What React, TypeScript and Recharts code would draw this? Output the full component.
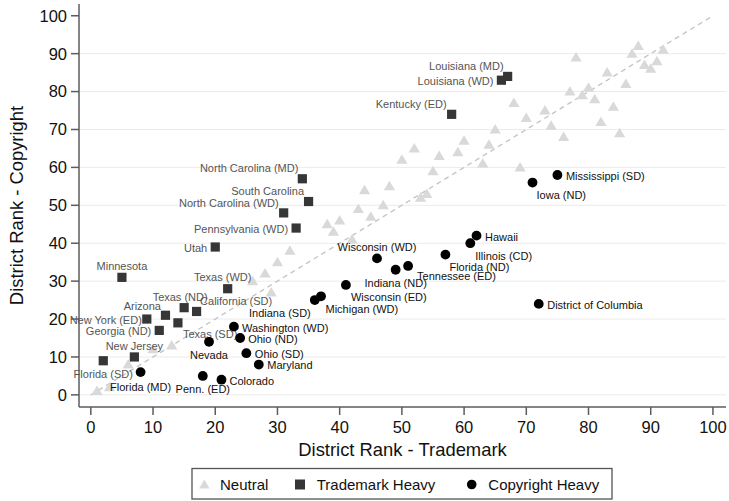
import React from 'react';
import { ScatterChart, Scatter, XAxis, YAxis, ReferenceLine, CartesianGrid } from 'recharts';

const FONT = '"Liberation Sans", Arial, Helvetica, sans-serif';

// ---- data (district ranks) ----
const neutralTrademark = [1, 3, 6, 10, 13, 26, 28, 29, 30, 32, 38, 39, 40, 42, 43, 44, 45, 47, 48, 50, 52, 53, 54, 55, 56, 59, 60, 63, 64, 65, 68, 69, 70, 73, 74, 76, 77, 78, 79, 80, 81, 82, 83, 84, 85, 86, 87, 88, 89, 90, 91, 92];
const neutralCopyright = [1, 2, 8, 12, 13, 30, 32, 27, 35, 38, 45, 43, 46, 41, 49, 54, 47, 50, 55, 62, 65, 52, 53, 59, 63, 64, 67, 61, 66, 70, 77, 60, 73, 75, 71, 68, 80, 89, 79, 81, 78, 72, 85, 76, 69, 82, 90, 92, 87, 86, 88, 91];

const tmHeavyNames = ['Florida (SD)', 'Minnesota', 'New Jersey', 'New York (ED)', 'Georgia (ND)', 'Arizona', 'Texas (SD)', 'Texas (ND)', 'California (SD)', 'Utah', 'Texas (WD)', 'North Carolina (WD)', 'Pennsylvania (WD)', 'North Carolina (MD)', 'South Carolina', 'Kentucky (ED)', 'Louisiana (WD)', 'Louisiana (MD)'];
const tmHeavyTrademark = [2, 5, 7, 9, 11, 12, 14, 15, 17, 20, 22, 31, 33, 34, 35, 58, 66, 67];
const tmHeavyCopyright = [9, 31, 10, 20, 17, 21, 19, 23, 22, 39, 28, 48, 44, 57, 51, 74, 83, 84];

const crHeavyNames = ['Florida (MD)', 'Penn. (ED)', 'Nevada', 'Colorado', 'Washington (WD)', 'Ohio (ND)', 'Ohio (SD)', 'Maryland', 'Indiana (SD)', 'Michigan (WD)', 'Wisconsin (ED)', 'Wisconsin (WD)', 'Indiana (ND)', 'Tennessee (ED)', 'Florida (ND)', 'Illinois (CD)', 'Hawaii', 'Iowa (ND)', 'District of Columbia', 'Mississippi (SD)'];
const crHeavyTrademark = [8, 18, 19, 21, 23, 24, 25, 27, 36, 37, 41, 46, 49, 51, 57, 61, 62, 71, 72, 75];
const crHeavyCopyright = [6, 5, 14, 4, 18, 15, 11, 8, 25, 26, 29, 36, 33, 34, 37, 40, 42, 56, 24, 58];

const axisTicks = [0, 10, 20, 30, 40, 50, 60, 70, 80, 90, 100];
const gridValues = [0, 10, 20, 30, 40, 50, 60, 70, 80, 90];
const seriesNames = ['Neutral', 'Trademark Heavy', 'Copyright Heavy'];

// ---- label placement (offset from marker centre, text anchor) ----
type Anchor = 'start' | 'middle' | 'end';
const labelPlacement: Record<string, [number, number, Anchor]> = {
  'Louisiana (MD)': [-4, -10, 'end'],
  'Louisiana (WD)': [-8, 1, 'end'],
  'Kentucky (ED)': [-5, -10, 'end'],
  'North Carolina (MD)': [-4, -10.5, 'end'],
  'South Carolina': [-4.5, -10, 'end'],
  'North Carolina (WD)': [-5, -10, 'end'],
  'Pennsylvania (WD)': [-8, 1, 'end'],
  'Utah': [-8, 1, 'end'],
  'Minnesota': [0, -11, 'middle'],
  'Texas (WD)': [-5, -11.5, 'middle'],
  'Texas (ND)': [-4, -11, 'middle'],
  'California (SD)': [3.5, -10, 'start'],
  'Arizona': [-4.5, -9.5, 'end'],
  'New York (ED)': [-5, 1, 'end'],
  'Georgia (ND)': [-8, 1, 'end'],
  'Texas (SD)': [5, 11.5, 'start'],
  'New Jersey': [0, -11, 'middle'],
  'Florida (SD)': [0, 13.5, 'middle'],
  'Florida (MD)': [0, 14.5, 'middle'],
  'Penn. (ED)': [0, 13.5, 'middle'],
  'Colorado': [8, 1, 'start'],
  'Nevada': [0, 13, 'middle'],
  'Washington (WD)': [8, 1, 'start'],
  'Ohio (ND)': [8, 1, 'start'],
  'Ohio (SD)': [8.5, 0.5, 'start'],
  'Maryland': [8.5, 1, 'start'],
  'Indiana (SD)': [-4, 12.5, 'end'],
  'Michigan (WD)': [4.5, 12.5, 'start'],
  'Wisconsin (ED)': [5, 12, 'start'],
  'Indiana (ND)': [0, 13.5, 'middle'],
  'Wisconsin (WD)': [0, -11, 'middle'],
  'Tennessee (ED)': [9, 10, 'start'],
  'Florida (ND)': [4, 12, 'start'],
  'Illinois (CD)': [5, 12.5, 'start'],
  'Hawaii': [8.5, 1, 'start'],
  'Iowa (ND)': [4, 12.5, 'start'],
  'District of Columbia': [8.5, 1, 'start'],
  'Mississippi (SD)': [8.5, 1, 'start'],
};

const neutralData = neutralTrademark.map((x, i) => ({ x, y: neutralCopyright[i] }));
const tmData = tmHeavyNames.map((name, i) => ({ name, x: tmHeavyTrademark[i], y: tmHeavyCopyright[i] }));
const crData = crHeavyNames.map((name, i) => ({ name, x: crHeavyTrademark[i], y: crHeavyCopyright[i] }));

const COLORS = { neutral: '#d9d9d9', tm: '#363636', cr: '#000000', tmLabel: '#555555', crLabel: '#111111', axis: '#5c5c5c' };

function Label({ cx, cy, name, color }: any) {
  const p = labelPlacement[name] || [8, 0, 'start'];
  return (
    <text x={cx + p[0]} y={cy + p[1]} dy="0.36em" textAnchor={p[2]} fontSize={11} fontFamily={FONT} fill={color}>
      {name}
    </text>
  );
}

const TriangleShape = (props: any) => {
  const { cx, cy } = props;
  return <polygon points={`${cx},${cy - 5.5} ${cx - 5.6},${cy + 4} ${cx + 5.6},${cy + 4}`} fill={COLORS.neutral} />;
};

const SquareShape = (props: any) => {
  const { cx, cy, payload } = props;
  return (
    <g>
      <rect x={cx - 4.6} y={cy - 4.6} width={9.2} height={9.2} fill={COLORS.tm} />
      <Label cx={cx} cy={cy} name={payload.name} color={COLORS.tmLabel} />
    </g>
  );
};

const CircleShape = (props: any) => {
  const { cx, cy, payload } = props;
  return (
    <g>
      <circle cx={cx} cy={cy} r={4.9} fill={COLORS.cr} />
      <Label cx={cx} cy={cy} name={payload.name} color={COLORS.crLabel} />
    </g>
  );
};

const XTitle = (props: any) => {
  const vb = props.viewBox || {};
  return (
    <text x={vb.x + vb.width / 2} y={vb.y + 42.3} dy="0.36em" textAnchor="middle" fontSize={18.4} fontFamily={FONT} fill="#111">
      District Rank - Trademark
    </text>
  );
};

const YTitle = (props: any) => {
  const vb = props.viewBox || {};
  const cx = 16;
  const cy = vb.y + vb.height / 2;
  return (
    <text x={cx} y={cy} dy="0.36em" textAnchor="middle" fontSize={18.4} fontFamily={FONT} fill="#111" transform={`rotate(-90, ${cx}, ${cy})`}>
      District Rank - Copyright
    </text>
  );
};

const Legend = () => (
  <svg width={729} height={501} style={{ position: 'absolute', left: 0, top: 0, pointerEvents: 'none' }}>
    <rect x={192} y={468.5} width={420} height={30.5} fill="#fff" stroke="#555" strokeWidth={1.3} />
    <polygon points="204.3,479.5 199,488.5 209.6,488.5" fill={COLORS.neutral} />
    <text x={220} y={485} dy="0.36em" fontSize={15} fontFamily={FONT} fill="#111">{seriesNames[0]}</text>
    <rect x={295} y={479.5} width={10} height={10} fill={COLORS.tm} />
    <text x={316.7} y={485} dy="0.36em" fontSize={15} fontFamily={FONT} fill="#111">{seriesNames[1]}</text>
    <circle cx={471.7} cy={484.5} r={4.8} fill={COLORS.cr} />
    <text x={488.3} y={485} dy="0.36em" fontSize={15} fontFamily={FONT} fill="#111">{seriesNames[2]}</text>
  </svg>
);

const tickStyle = { fontSize: 16.5, fontFamily: FONT, fill: '#111' };

export default function App() {
  return (
    <div style={{ position: 'absolute', left: 0, top: 0, width: 729, height: 501, background: '#fff' }}>
      <ScatterChart width={729} height={501} margin={{ top: 4, right: 3, left: 0, bottom: 0 }}>
        <CartesianGrid
          vertical={false}
          stroke="#ebebeb"
          strokeWidth={1}
          horizontalCoordinatesGenerator={(args: any) => {
            const s = args?.yAxis?.scale;
            if (typeof s === 'function') return gridValues.map((v) => s(v));
            if (s && typeof s.map === 'function') return gridValues.map((v) => s.map(v));
            const off = args.offset;
            return gridValues.map((v) => off.top + off.height * (103.1 - v) / 106.3);
          }}
        />
        <XAxis
          type="number"
          dataKey="x"
          domain={[-1.9, 102.1]}
          ticks={axisTicks}
          height={94}
          tickSize={8}
          tickMargin={6}
          tick={tickStyle}
          axisLine={{ stroke: COLORS.axis, strokeWidth: 1.5 }}
          tickLine={{ stroke: COLORS.axis, strokeWidth: 1.5 }}
          label={<XTitle />}
        />
        <YAxis
          type="number"
          dataKey="y"
          domain={[-3.2, 103.1]}
          ticks={axisTicks}
          width={79}
          tickSize={8}
          tickMargin={4}
          tick={tickStyle}
          axisLine={{ stroke: COLORS.axis, strokeWidth: 1.5 }}
          tickLine={{ stroke: COLORS.axis, strokeWidth: 1.5 }}
          label={<YTitle />}
        />
        <Scatter name={seriesNames[0]} data={neutralData} shape={TriangleShape} isAnimationActive={false} />
        <ReferenceLine
          segment={[{ x: 0, y: 0 }, { x: 100, y: 100 }]}
          stroke="#c2c2c2"
          strokeWidth={1.3}
          strokeDasharray="5 4"
        />
        <Scatter name={seriesNames[1]} data={tmData} shape={SquareShape} isAnimationActive={false} />
        <Scatter name={seriesNames[2]} data={crData} shape={CircleShape} isAnimationActive={false} />
      </ScatterChart>
      <Legend />
    </div>
  );
}
